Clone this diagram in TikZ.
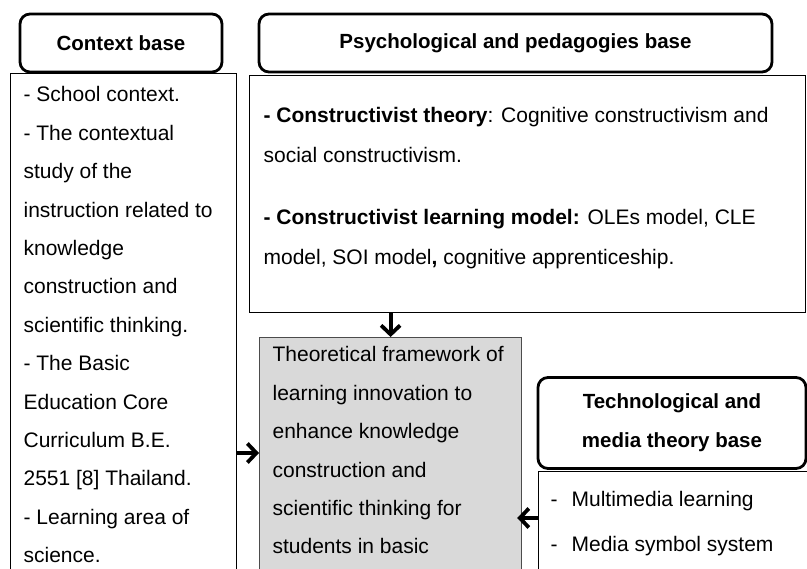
\documentclass[tikz,border=0pt]{standalone}
\usepackage{fontspec}
\setmainfont{Liberation Sans}
\usetikzlibrary{arrows.meta, positioning}

\begin{document}
\begin{tikzpicture}[
    x=1pt, y=-1pt,
    >={Straight Barb[length=9pt,width=19pt]},
    line width=1.2pt,
    headbox/.style={draw, rounded corners=10pt, line width=2.8pt, align=center,
        inner sep=0pt, font=\bfseries\fontsize{20.5}{39}\selectfont},
    listbox/.style={draw, line width=1.2pt, inner sep=0pt, anchor=north west},
    bodytext/.style={anchor=north west, align=left, inner sep=0pt,
        font=\fontsize{21}{38.4}\selectfont},
    flow/.style={->, line width=3.8pt}
]

\clip (0,0) rectangle (807,569);

% Context base column
\node[headbox, minimum width=202pt, minimum height=58pt] (ctxhead) at (121,43) {Context base};
\node[listbox, minimum width=226pt, minimum height=520pt] (ctxbox) at (10,73) {};
\node[bodytext] (ctxtext) at (23,86) {- School context.\\- The contextual\\study of the\\instruction related to\\knowledge\\construction and\\scientific thinking.\\- The Basic\\Education Core\\Curriculum B.E.\\2551 [8] Thailand.\\- Learning area of\\science.};

% Psychological and pedagogies column
\node[headbox, minimum width=513pt, minimum height=58pt] (psyhead) at (515.5,43) {Psychological and pedagogies base};
\node[listbox, minimum width=556pt, minimum height=237pt] (psybox) at (249,75) {};
\node[bodytext, font=\fontsize{21}{40}\selectfont] (psytext) at (263,107)
    {\textbf{- Constructivist theory}: Cognitive constructivism and\\social constructivism.\\[22pt]\textbf{- Constructivist learning model:} OLEs model, CLE\\model, SOI model\textbf{,} cognitive apprenticeship.};

% Framework box in the middle
\node[listbox, fill=black!15, draw=black!70, minimum width=262pt, minimum height=260pt] (framebox) at (259,337) {};
\node[bodytext] (frametext) at (272,346) {Theoretical framework of\\learning innovation to\\enhance knowledge\\construction and\\scientific thinking for\\students in basic};

% Technological and media column
\node[headbox, minimum width=268pt, minimum height=91pt] (techhead) at (672,423) {Technological and\\media theory base};
\node[listbox, minimum width=280pt, minimum height=140pt] (techbox) at (538,471) {};
\node[bodytext, font=\fontsize{21}{45}\selectfont] (techtext) at (550,491) {-\hspace{14pt}Multimedia learning\\-\hspace{14pt}Media symbol system};

% Arrows into the framework
\coordinate (ctxout) at (ctxbox.east |- 0,453);
\coordinate (techin) at (techbox.west |- 0,518);
\draw[flow] (framebox.north |- psybox.south) -- (framebox.north);
\draw[flow] (ctxout) -- (framebox.west |- ctxout);
\draw[flow] (techin) -- ([xshift=-5pt]framebox.east |- techin);

\end{tikzpicture}
\end{document}
